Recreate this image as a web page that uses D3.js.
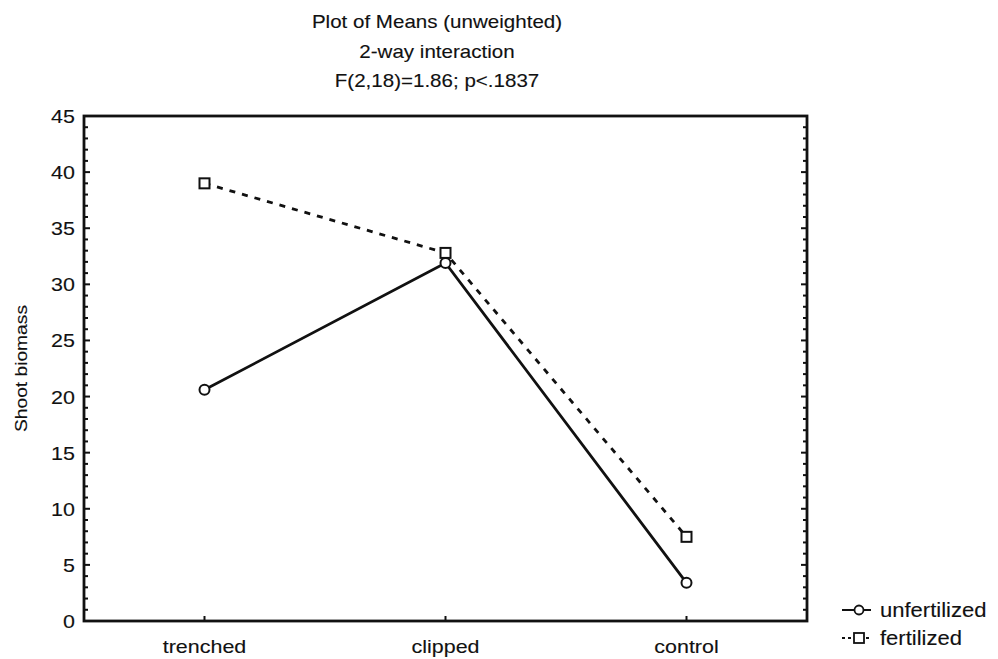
<!DOCTYPE html>
<html>
<head>
<meta charset="utf-8">
<script src="https://cdn.jsdelivr.net/npm/d3@7"></script>
<style>
  html, body { margin: 0; padding: 0; background: #fff; }
  text { font-family: "Liberation Sans", Arial, sans-serif; fill: #111; stroke: #111; stroke-width: 0.12px; }
</style>
</head>
<body>
<svg id="chart" width="998" height="659"></svg>
<script>
// Treatments on the x axis
const categories = ["trenched", "clipped", "control"];
// Mean shoot biomass per treatment
const unfertilized = [20.6, 31.9, 3.4];
const fertilized = [39.0, 32.8, 7.5];
const seriesNames = ["unfertilized", "fertilized"];
const yTicks = [0, 5, 10, 15, 20, 25, 30, 35, 40, 45];
const titleLines = ["Plot of Means (unweighted)", "2-way interaction", "F(2,18)=1.86; p<.1837"];
const yLabel = "Shoot biomass";

const svg = d3.select("#chart");
const plot = { left: 84, right: 807, top: 116, bottom: 621 };

const x = d3.scalePoint().domain(categories).range([plot.left, plot.right]).padding(0.5);
const y = d3.scaleLinear().domain([0, 45]).range([plot.bottom, plot.top]);

// horizontally widened text, as in the original plotting package
const SX = 1.13;
function wideText(sel, px, py, str, anchor, size) {
  return sel.append("text")
    .attr("transform", `translate(${px},${py}) scale(${SX},1)`)
    .attr("text-anchor", anchor)
    .style("font-size", size + "px")
    .text(str);
}

// Title
titleLines.forEach((s, i) => {
  wideText(svg, 437, 28 + i * 29.5, s, "middle", 18.2);
});

// Y axis label
svg.append("text")
  .attr("transform", `translate(27,${(plot.top + plot.bottom) / 2}) rotate(-90) scale(${SX},1)`)
  .attr("text-anchor", "middle")
  .style("font-size", "17px")
  .text(yLabel);

// Minor ticks (every unit) on left and right, inward
const minor = d3.range(1, 45);
const ax = svg.append("g");
ax.selectAll("line.lm").data(minor).join("line")
  .attr("x1", plot.left).attr("x2", d => plot.left + (d % 5 === 0 ? 6 : 4))
  .attr("y1", d => y(d)).attr("y2", d => y(d))
  .attr("stroke", "#111").attr("stroke-width", 2);
ax.selectAll("line.rm").data(minor).join("line")
  .attr("x1", plot.right).attr("x2", d => plot.right - (d % 5 === 0 ? 6 : 4))
  .attr("y1", d => y(d)).attr("y2", d => y(d))
  .attr("stroke", "#111").attr("stroke-width", 2);
// category ticks on bottom
ax.selectAll("line.bt").data(categories).join("line")
  .attr("x1", d => x(d)).attr("x2", d => x(d))
  .attr("y1", plot.bottom).attr("y2", plot.bottom - 5)
  .attr("stroke", "#111").attr("stroke-width", 2);

// Frame
svg.append("rect")
  .attr("x", plot.left).attr("y", plot.top)
  .attr("width", plot.right - plot.left).attr("height", plot.bottom - plot.top)
  .attr("fill", "none").attr("stroke", "#111").attr("stroke-width", 2.8);

// Y tick labels
yTicks.forEach(v => {
  wideText(svg, 75, y(v) + 7, String(v), "end", 19);
});
// X tick labels
categories.forEach(c => {
  wideText(svg, x(c), 653, c, "middle", 19);
});

// Lines
const line = d3.line().x((d, i) => x(categories[i])).y(d => y(d));
svg.append("path").datum(fertilized).attr("d", line)
  .attr("fill", "none").attr("stroke", "#111").attr("stroke-width", 2.8)
  .attr("stroke-dasharray", "6,7");
svg.append("path").datum(unfertilized).attr("d", line)
  .attr("fill", "none").attr("stroke", "#111").attr("stroke-width", 2.8);

// Markers
svg.selectAll("rect.sq").data(fertilized).join("rect")
  .attr("x", (d, i) => x(categories[i]) - 5).attr("y", d => y(d) - 5)
  .attr("width", 10).attr("height", 10)
  .attr("fill", "#fff").attr("stroke", "#111").attr("stroke-width", 2);
svg.selectAll("circle.ci").data(unfertilized).join("circle")
  .attr("cx", (d, i) => x(categories[i])).attr("cy", d => y(d)).attr("r", 5)
  .attr("fill", "#fff").attr("stroke", "#111").attr("stroke-width", 2);

// Legend
const lg = svg.append("g");
const rows = [610, 638];
// unfertilized: solid line with circle
lg.append("line").attr("x1", 842).attr("x2", 871).attr("y1", rows[0]).attr("y2", rows[0])
  .attr("stroke", "#111").attr("stroke-width", 2);
lg.append("circle").attr("cx", 859).attr("cy", rows[0]).attr("r", 4.5)
  .attr("fill", "#fff").attr("stroke", "#111").attr("stroke-width", 1.8);
// fertilized: dotted line with square
lg.append("line").attr("x1", 842).attr("x2", 871).attr("y1", rows[1]).attr("y2", rows[1])
  .attr("stroke", "#111").attr("stroke-width", 2).attr("stroke-dasharray", "3,3");
lg.append("rect").attr("x", 854).attr("y", rows[1] - 5).attr("width", 10).attr("height", 10)
  .attr("fill", "#fff").attr("stroke", "#111").attr("stroke-width", 1.8);
seriesNames.forEach((s, i) => {
  wideText(lg, 880, rows[i] + 7, s, "start", 19.5);
});
</script>
</body>
</html>
